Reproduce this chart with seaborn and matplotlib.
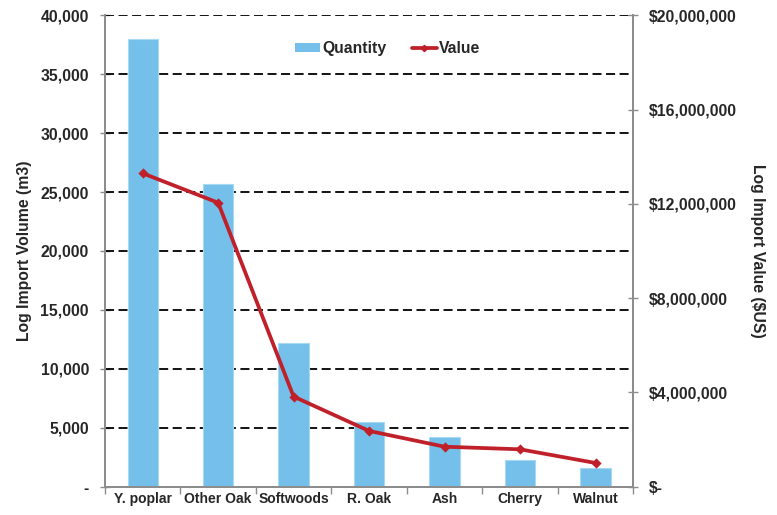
import matplotlib
matplotlib.use("Agg")
import matplotlib.pyplot as plt
import seaborn as sns
import pandas as pd
from matplotlib.lines import Line2D
from matplotlib.patches import Patch

# Log imports by species
species = ["Y. poplar", "Other Oak", "Softwoods", "R. Oak", "Ash", "Cherry", "Walnut"]
quantity_m3 = [38000, 25650, 12150, 5480, 4230, 2250, 1600]
value_usd = [13300000, 12050000, 3820000, 2360000, 1690000, 1580000, 1000000]

qty_ticks = [0, 5000, 10000, 15000, 20000, 25000, 30000, 35000, 40000]
qty_ticklabels = ["-", "5,000", "10,000", "15,000", "20,000", "25,000", "30,000", "35,000", "40,000"]
val_ticks = [0, 4000000, 8000000, 12000000, 16000000, 20000000]
val_ticklabels = ["$-", "$4,000,000", "$8,000,000", "$12,000,000", "$16,000,000", "$20,000,000"]

df = pd.DataFrame({"species": species, "quantity": quantity_m3, "value": value_usd})

sns.set_theme(style="white")
plt.rcParams["font.family"] = ["Liberation Sans", "DejaVu Sans"]

bar_color = "#74C0EA"
line_color = "#C0202A"
spine_color = "#8C8C8C"
fs = 11.3

fig = plt.figure(figsize=(7.77, 5.15), dpi=100)
ax = fig.add_axes([0.135, 0.0553, 0.68, 0.9147])

sns.barplot(data=df, x="species", y="quantity", color=bar_color, width=0.4,
            saturation=1, edgecolor="#A9D8F2", linewidth=0.8, ax=ax, zorder=2)
ax.set_ylim(0, 40000)
ax.set_xlim(-0.5, len(species) - 0.5)

# dashed horizontal grid
for t in qty_ticks[1:]:
    ax.axhline(t, color="black", linestyle=(0, (5, 2.5)), linewidth=1.3, zorder=1)

ax.set_yticks(qty_ticks)
ax.set_yticklabels(qty_ticklabels, fontsize=fs, fontweight="bold")
ax.set_xticks(range(len(species)))
ax.set_xticklabels(species, fontsize=10, fontweight="bold")
ax.tick_params(axis="x", length=0, pad=4)
ax.tick_params(axis="y", which="major", direction="inout", length=7, width=1,
               color=spine_color, pad=8, left=True)
# category separators on the x axis
ax.set_xticks([i - 0.5 for i in range(len(species) + 1)], minor=True)
ax.tick_params(axis="x", which="minor", direction="out", length=5, width=1,
               color=spine_color, bottom=True)
ax.set_xlabel("")
ax.set_ylabel("Log Import Volume (m3)", fontsize=fs, fontweight="bold", labelpad=6)

for side in ["left", "bottom", "right"]:
    ax.spines[side].set_color(spine_color)
    ax.spines[side].set_linewidth(1.3)
ax.spines["top"].set_visible(False)

ax2 = ax.twinx()
sns.pointplot(data=df, x="species", y="value", color=line_color, markers="D",
              markersize=3.2, linewidth=2.7, ax=ax2, zorder=3)
ax2.set_xlim(-0.5, len(species) - 0.5)
ax2.set_ylim(0, 20000000)
ax2.set_yticks(val_ticks)
ax2.set_yticklabels(val_ticklabels, fontsize=fs, fontweight="bold")
ax2.tick_params(axis="y", direction="inout", length=7, width=1, color=spine_color,
                pad=8, right=True)
ax2.set_ylabel("Log Import Value ($US)", fontsize=fs, fontweight="bold",
               rotation=270, labelpad=20)
ax2.set_xlabel("")
for side in ["left", "bottom", "right"]:
    ax2.spines[side].set_color(spine_color)
    ax2.spines[side].set_linewidth(1.3)
ax2.spines["top"].set_visible(False)

handles = [
    Patch(facecolor=bar_color, edgecolor="none", label="Quantity"),
    Line2D([0], [0], color=line_color, linewidth=2.7, marker="D", markersize=3.2,
           label="Value"),
]
ax2.legend(handles=handles, loc="center", bbox_to_anchor=(0.535, 0.93), ncol=2,
           frameon=False, prop={"weight": "bold", "size": fs},
           handlelength=1.6, handleheight=0.5, columnspacing=1.6, handletextpad=0.15)

fig.savefig("out.png", dpi=100)
